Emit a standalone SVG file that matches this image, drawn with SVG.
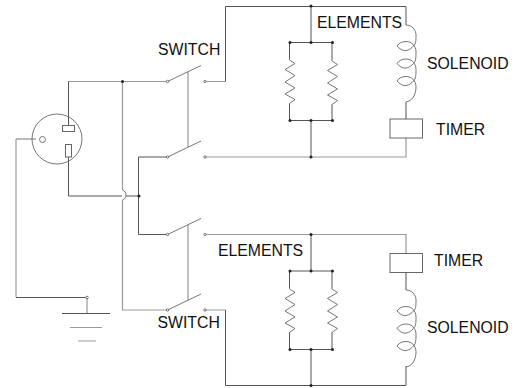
<svg xmlns="http://www.w3.org/2000/svg" width="526" height="388" viewBox="0 0 526 388">
<defs>
<style>
.w{fill:none;stroke:#555;stroke-width:1}
.l{fill:none;stroke:#999;stroke-width:1.2}
.s{fill:none;stroke:#666;stroke-width:.9}
.b{fill:#fff;stroke:#666;stroke-width:1}
.t{font-family:"Liberation Sans",Arial,sans-serif;font-size:15.8px;fill:#111}
.d{fill:#222}
.o{fill:#fff;stroke:#555;stroke-width:.8}
</style>
<g id="coil"><path class="s" d="M0 0C6 0 10 5 10 10C10 14 10 17 9 19C5 25 0 26-2 25.500C-5 25-7 23-9 21C-7 18-4 16.500 0 16.500C6 16.500 10 21 10 27C10 31 10 34 9 36.500C5 42.500 0 43.500-2 43C-5 42.500-7 40.500-9 38.500C-7 35.500-4 34 0 34C6 34 10 38.500 10 44.500C10 48 10 51 9 54C5 60 0 61-2 60.500C-5 60-7 58-9 56C-7 53-4 51.500 0 51.500C6 51.500 10 56 10 62C10 70 6 76 0 77"/></g>
<path id="zig" class="s" d="M0 0V1L5.500 4.500L-4.500 10.500L5.500 16.500L-4.500 23L5.500 29L-4.500 35L5.500 40.500L0 44.500V45"/>
<g id="sw"><path class="s" d="M0 0L33.500-16"/><circle class="o" cx="0" cy="0" r="1.200"/><circle class="o" cx="37.500" cy="0" r="1.200"/></g>
</defs>
<g id="connectors">
<path class="l" d="M68.500 81.500H167M205 81.500H225.500"/>
<path class="w" d="M225.500 81.500V6.500H406V25"/>
<path class="w" d="M68.500 81.500V125.500M68.500 157V196H122"/>
<path class="w" d="M126 196H139M138.500 157H167M138.500 157V234.500H167"/>
<path class="l" d="M122.500 81.500V190M122.500 200V310H167"/>
<path class="s" d="M122.500 190C125 191 126 193 126 195C126 197 125 199 122.500 200"/>
<path class="l" d="M205 157H406V138M205 234.500H406V253M205 310H225.500"/>
<path class="w" d="M225.500 310V385.500H406V366M406 102V119M406 272.500V290"/>
<path class="l" d="M188 72V147M188 225V300"/>
<path class="s" d="M16 139H36"/>
<path class="l" d="M16 139V297"/><path class="w" d="M16 297.500H87"/>
<path class="l" d="M87 297V313"/>
<path class="w" d="M62 313.500H110"/><path class="l" d="M70 327.500H102M78 341H96"/>
<path class="w" d="M311 6V42.500M311 120.500V157M311 234.500V271M311 349.500V385.500"/>
<path class="w" d="M289.500 42.500H332.500M289.500 120.500H332.500M289.500 271H332.500M289.500 349.500H332.500"/>
<path class="w" d="M289.500 42.500V59M332 42.500V60M289.500 103.500V120.500M332 104.500V120.500M289.500 271V288M332 271V288M289.500 332.500V349.500M332 332.500V349.500"/>
</g>
<g id="outlet">
<circle class="s" cx="57" cy="139" r="25"/>
<rect class="b" x="62.500" y="125.500" width="12" height="6"/>
<rect class="b" x="65.500" y="144.500" width="6" height="12.500"/>
<circle class="s" cx="42.500" cy="139.500" r="3"/>
</g>
<g id="switches">
<use href="#sw" x="167.500" y="81.500"/>
<use href="#sw" x="167.500" y="157"/>
<use href="#sw" x="167.500" y="234.500"/>
<use href="#sw" x="167.500" y="310"/>
<text class="t" x="158" y="55">SWITCH</text>
<text class="t" x="157.500" y="328">SWITCH</text>
</g>
<g id="elements-top">
<use href="#zig" x="289.500" y="59"/><use href="#zig" x="332" y="60"/>
<circle class="d" cx="311" cy="6" r="1.500"/><circle class="d" cx="290" cy="42.500" r="1.500"/><circle class="d" cx="311" cy="42.500" r="1.500"/><circle class="d" cx="332.500" cy="42.500" r="1.500"/>
<circle class="d" cx="290" cy="120.500" r="1.500"/><circle class="d" cx="311" cy="120.500" r="1.500"/><circle class="d" cx="332.500" cy="120.500" r="1.500"/><circle class="d" cx="311" cy="157" r="1.500"/>
<text class="t" x="317" y="28">ELEMENTS</text>
</g>
<g id="elements-bottom">
<use href="#zig" x="289.500" y="288"/><use href="#zig" x="332" y="288"/>
<circle class="d" cx="311" cy="234.500" r="1.500"/><circle class="d" cx="290" cy="271" r="1.500"/><circle class="d" cx="311" cy="271" r="1.500"/><circle class="d" cx="332.500" cy="271" r="1.500"/>
<circle class="d" cx="290" cy="349.500" r="1.500"/><circle class="d" cx="311" cy="349.500" r="1.500"/><circle class="d" cx="332.500" cy="349.500" r="1.500"/><circle class="d" cx="311" cy="385.500" r="1.500"/>
<text class="t" x="218" y="256">ELEMENTS</text>
</g>
<g id="solenoid-top"><use href="#coil" x="406" y="25"/><text class="t" x="427" y="69">SOLENOID</text></g>
<g id="solenoid-bottom"><use href="#coil" x="406" y="290"/><text class="t" x="427" y="333">SOLENOID</text></g>
<g id="timer-top"><rect class="b" x="390" y="119" width="32.500" height="19"/><text class="t" x="436" y="135">TIMER</text></g>
<g id="timer-bottom"><rect class="b" x="390" y="253.500" width="32.500" height="19"/><text class="t" x="434" y="266">TIMER</text></g>
<g id="junctions">
<circle class="d" cx="122.500" cy="81.500" r="1.500"/><circle class="d" cx="139" cy="196" r="1.500"/><circle class="o" cx="87" cy="297.500" r="1.300"/>
</g>
</svg>
